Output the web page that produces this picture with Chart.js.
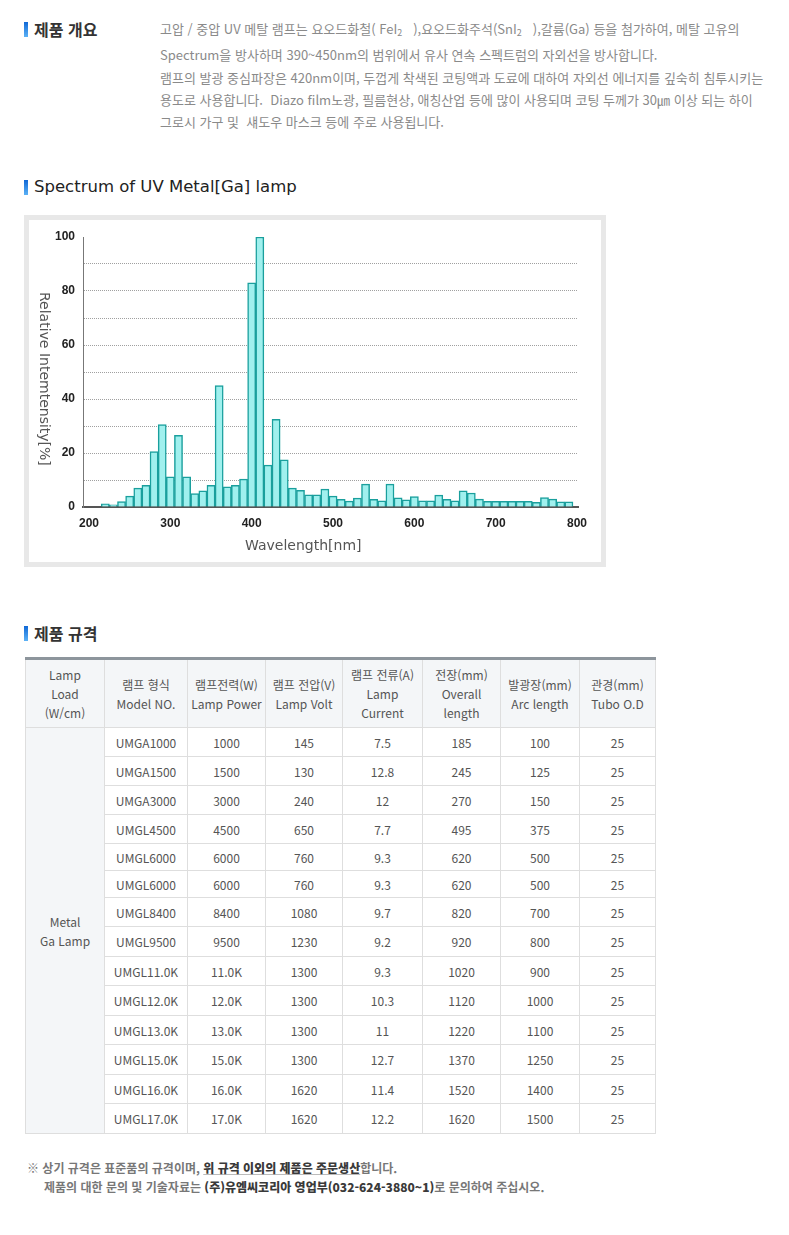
<!DOCTYPE html>
<html lang="ko">
<head>
<meta charset="utf-8">
<script src="https://cdn.jsdelivr.net/npm/chart.js@4.4.1/dist/chart.umd.min.js"></script>
<style>
  body { margin: 0; background: #fff; width: 789px; height: 1235px; position: relative; overflow: hidden;
         font-family: "Noto Sans CJK KR", "Noto Sans", sans-serif; }
  .hd { position: absolute; left: 24px; padding-left: 10px; font-size: 16px; line-height: 18px; font-weight: bold; color: #333; white-space: nowrap; }
  .hd::before { content: ''; position: absolute; left: 0; top: 2px; width: 4px; height: 15px;
                background: linear-gradient(#1068d6, #5cb2f6); }
  .hd.en { font-family: "DejaVu Sans", sans-serif; font-weight: normal; font-size: 16.5px; color: #222; }
  .intro { position: absolute; left: 160px; top: 18px; font-size: 13px; line-height: 22.3px; color: #8a8a8a; white-space: nowrap; }
  .intro sub { font-size: 9px; vertical-align: -2px; }
  .frame { position: absolute; left: 24px; top: 215px; width: 582px; height: 352px; box-sizing: border-box;
           border: 5px solid #e8e8e8; background: #fff; }
  .chartbox { position: absolute; left: 29px; top: 221px; width: 572px; height: 341px; }
  .ytitle { position: absolute; left: 37px; top: 292px; writing-mode: vertical-rl; font-family: "DejaVu Sans", sans-serif;
            font-size: 14px; color: #555; white-space: nowrap; }
  .xtitle { position: absolute; left: 245px; top: 537px; font-family: "DejaVu Sans", sans-serif; font-size: 14px; color: #555; white-space: nowrap; }
  table { position: absolute; left: 25px; top: 657px; width: 630px; border-collapse: collapse; table-layout: fixed;
          font-size: 12px; color: #555; text-align: center; }
  th, td { border: 1px solid #dedede; padding: 0; font-weight: normal; }
  thead tr:first-child th { border-top: 3px solid #8d959c; }
  th { background: #f4f6f8; height: 67px; line-height: 19px; }
  td.lamp { background: #f4f6f8; line-height: 19px; }
  .note { position: absolute; left: 27px; font-size: 12px; font-weight: bold; color: #777; white-space: nowrap; line-height: 16px; }
  .note b { color: #3a3a3a; }
  .note u { text-decoration-color: #bbb; }
</style>
</head>
<body>

<div class="hd" style="top:20px">제품 개요</div>
<div class="intro">
고압 / 중압 UV 메탈 램프는 요오드화철( FeI<sub>2</sub> &nbsp;&nbsp;),요오드화주석(SnI<sub>2</sub> &nbsp;&nbsp;),갈륨(Ga) 등을 첨가하여, 메탈 고유의<br>
Spectrum을 방사하며 390~450nm의 범위에서 유사 연속 스펙트럼의 자외선을 방사합니다.<br>
램프의 발광 중심파장은 420nm이며, 두껍게 착색된 코팅액과 도료에 대하여 자외선 에너지를 깊숙히 침투시키는<br>
용도로 사용합니다.&nbsp; Diazo film노광, 필름현상, 애칭산업 등에 많이 사용되며 코팅 두께가 30㎛ 이상 되는 하이<br>
그로시 가구 및&nbsp; 섀도우 마스크 등에 주로 사용됩니다.
</div>

<div class="hd en" style="top:178px">Spectrum of UV Metal[Ga] lamp</div>
<div class="frame"></div>
<div class="chartbox"><canvas id="spectrumChart"></canvas></div>
<div class="ytitle">Relative Intemtensity[%]</div>
<div class="xtitle">Wavelength[nm]</div>

<div class="hd" style="top:624px">제품 규격</div>
<table id="specTable"></table>

<div class="note" style="top:1160px">※ 상기 규격은 표준품의 규격이며, <b><u>위 규격 이외의 제품은 주문생산</u></b>합니다.</div>
<div class="note" style="top:1179px; left:44px">제품의 대한 문의 및 기술자료는 <b>(주)유엠씨코리아 영업부(032-624-3880~1)</b>로 문의하여 주십시오.</div>

<script>
// spectrum bins (nm, bin centre) and relative intensity (%)
const wavelengths = [220, 230, 240, 250, 260, 270, 280, 290, 300, 310,
                     320, 330, 340, 350, 360, 370, 380, 390, 400, 410,
                     420, 430, 440, 450, 460, 470, 480, 490, 500, 510,
                     520, 530, 540, 550, 560, 570, 580, 590, 600, 610,
                     620, 630, 640, 650, 660, 670, 680, 690, 700, 710,
                     720, 730, 740, 750, 760, 770, 780, 790];
const intensity = [1.2, 0.8, 2, 4, 7, 8, 20.5, 30.5, 11.2, 26.5,
                   11.2, 5, 6, 8, 45, 7.5, 8, 10.3, 83, 100,
                   15.5, 32.5, 17.5, 7, 6.2, 4.5, 4.5, 6.6, 4, 2.8,
                   2.2, 3.3, 8.5, 2.8, 2.3, 8.5, 3.4, 2.7, 3.9, 2.3,
                   2.3, 4.4, 2.8, 2.3, 6, 5.2, 2.9, 2.1, 2.1, 2.1,
                   2.1, 2.1, 2.1, 1.7, 3.5, 2.9, 1.9, 1.9];
const xTicks = [200, 300, 400, 500, 600, 700, 800];

const tickFont = { family: '"Liberation Sans", Arial, sans-serif', size: 12, weight: 'bold' };

new Chart(document.getElementById('spectrumChart').getContext('2d'), {
    type: 'bar',
    data: {
        datasets: [{
            data: wavelengths.map((w, i) => ({ x: w, y: intensity[i] })),
            backgroundColor: '#a0f0ee',
            borderColor: '#1a9f9d',
            borderWidth: 1.5,
            barPercentage: 1,
            categoryPercentage: 1
        }]
    },
    options: {
        responsive: true,
        maintainAspectRatio: false,
        animation: false,
        layout: { padding: { left: 0, right: 23, top: 16, bottom: 0 } },
        plugins: { legend: { display: false }, tooltip: { enabled: false } },
        scales: {
            x: {
                type: 'linear',
                offset: false,
                min: 192.6,
                max: 801.2,
                afterBuildTicks: scale => { scale.ticks = xTicks.map(v => ({ value: v })); },
                afterFit: scale => { scale.height = 55; },
                grid: { display: false, drawTicks: false, offset: false },
                border: { color: '#555', width: 2 },
                ticks: { font: tickFont, color: '#222', padding: 9, maxRotation: 0 }
            },
            y: {
                min: 0,
                max: 100,
                afterFit: scale => { scale.width = 54; },
                grid: {
                    drawTicks: false,
                    color: c => (c.tick.value === 0 || c.tick.value === 100) ? 'rgba(0,0,0,0)' : '#a0a0a0'
                },
                border: { color: '#777', width: 1, dash: [1, 1] },
                ticks: {
                    stepSize: 10,
                    font: tickFont,
                    color: '#222',
                    padding: 8,
                    callback: v => (v % 20 === 0 ? v : '')
                }
            }
        }
    }
});

// spec table
const headers = ['Lamp<br>Load<br>(W/cm)', '램프 형식<br>Model NO.', '램프전력(W)<br>Lamp Power', '램프 전압(V)<br>Lamp Volt',
                 '램프 전류(A)<br>Lamp<br>Current', '전장(mm)<br>Overall<br>length', '발광장(mm)<br>Arc length', '관경(mm)<br>Tubo O.D'];
const colWidths = [79, 83, 78, 77, 80, 78, 79, 76];
const rowHeights = [29, 29, 29, 29, 27, 27, 29, 30, 29, 30, 29, 30, 29, 30];
const specRows = [
    ['UMGA1000', '1000', '145', '7.5', '185', '100', '25'],
    ['UMGA1500', '1500', '130', '12.8', '245', '125', '25'],
    ['UMGA3000', '3000', '240', '12', '270', '150', '25'],
    ['UMGL4500', '4500', '650', '7.7', '495', '375', '25'],
    ['UMGL6000', '6000', '760', '9.3', '620', '500', '25'],
    ['UMGL6000', '6000', '760', '9.3', '620', '500', '25'],
    ['UMGL8400', '8400', '1080', '9.7', '820', '700', '25'],
    ['UMGL9500', '9500', '1230', '9.2', '920', '800', '25'],
    ['UMGL11.0K', '11.0K', '1300', '9.3', '1020', '900', '25'],
    ['UMGL12.0K', '12.0K', '1300', '10.3', '1120', '1000', '25'],
    ['UMGL13.0K', '13.0K', '1300', '11', '1220', '1100', '25'],
    ['UMGL15.0K', '15.0K', '1300', '12.7', '1370', '1250', '25'],
    ['UMGL16.0K', '16.0K', '1620', '11.4', '1520', '1400', '25'],
    ['UMGL17.0K', '17.0K', '1620', '12.2', '1620', '1500', '25']
];

let html = '<colgroup>' + colWidths.map(w => `<col style="width:${w}px">`).join('') + '</colgroup>';
html += '<thead><tr>' + headers.map(h => `<th>${h}</th>`).join('') + '</tr></thead><tbody>';
specRows.forEach((row, i) => {
    html += `<tr style="height:${rowHeights[i]}px">`;
    if (i === 0) html += `<td class="lamp" rowspan="${specRows.length}">Metal<br>Ga Lamp</td>`;
    html += row.map(c => `<td>${c}</td>`).join('') + '</tr>';
});
html += '</tbody>';
document.getElementById('specTable').innerHTML = html;
</script>
</body>
</html>
